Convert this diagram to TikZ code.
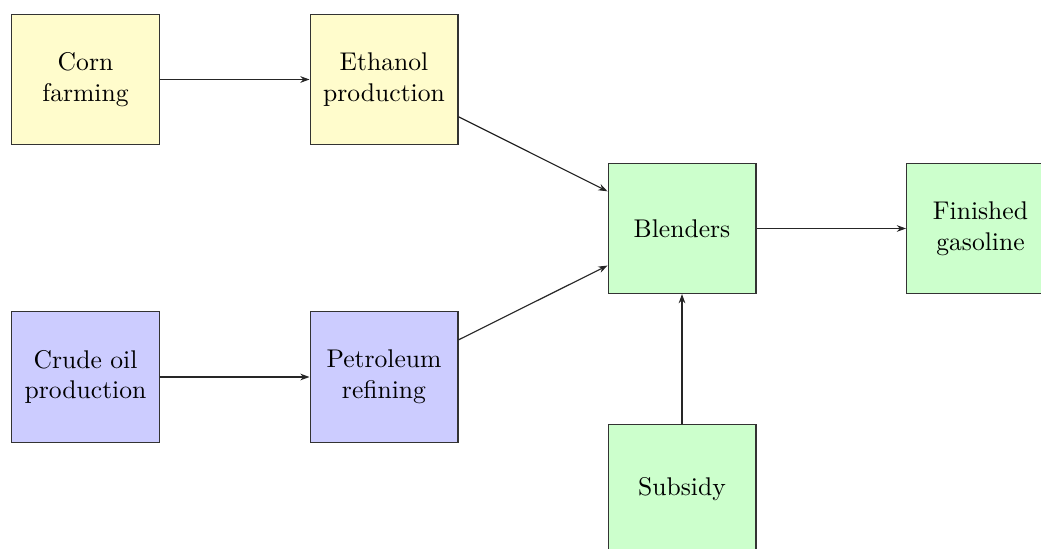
\documentclass[tikz,border=0pt]{standalone}
\usetikzlibrary{arrows.meta}
\begin{document}
\begin{tikzpicture}[x=0.390625pt,y=-0.390625pt,
  box/.style={draw=black!80, line width=0.4pt, minimum width=57.8pt, minimum height=50.8pt, align=center, inner sep=2pt},
  yel/.style={box, fill=yellow!20},
  blu/.style={box, fill=blue!20},
  grn/.style={box, fill=green!20},
  flow/.style={draw=black!85, line width=0.45pt, -{Stealth[length=3.6pt,width=2.6pt]}}]
\useasboundingbox (0,0) rectangle (1041,549);
\clip (0,0) rectangle (1041,549);
\node[yel] (corn) at (85.5,79.5) {Corn\\farming};
\node[yel] (eth) at (384,79.5) {Ethanol\\production};
\node[grn] (blend) at (682,228.5) {Blenders};
\node[grn] (fin) at (980.5,228.5) {Finished\\gasoline};
\node[blu] (crude) at (85.5,377) {Crude oil\\production};
\node[blu] (pet) at (384,377) {Petroleum\\refining};
\node[grn] (sub) at (682,489.5) {Subsidy};
\draw[flow] (corn) -- (eth);
\draw[flow] (eth) -- (blend);
\draw[flow] (crude) -- (pet);
\draw[flow] (pet) -- (blend);
\draw[flow] (blend) -- (fin);
\draw[flow] (sub) -- (blend);
\end{tikzpicture}
\end{document}
